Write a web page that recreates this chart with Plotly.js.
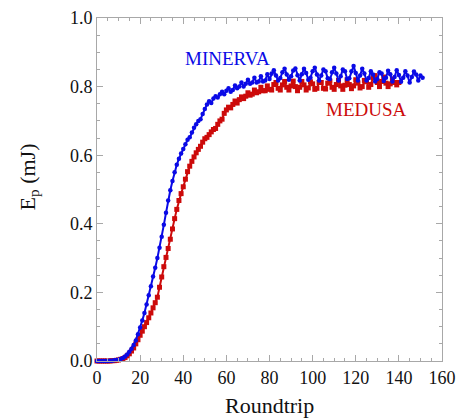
<!DOCTYPE html>
<html>
<head>
<meta charset="utf-8">
<script src="https://cdn.plot.ly/plotly-3.0.1.min.js"></script>
<style>html,body{margin:0;padding:0;background:#fff;}#chart{width:461px;height:420px;}</style>
</head>
<body>
<div id="chart"></div>
<script>
// MINERVA pulse energy (mJ) for roundtrips 0..151
const minervaE = [
0,0,0,0,0,0,0.001,0.001,0.002,0.003,
0.004,0.006,0.009,0.013,0.019,0.027,0.036,0.047,0.060,0.078,
0.098,0.118,0.140,0.165,0.192,0.218,0.246,0.272,0.300,0.330,
0.362,0.397,0.432,0.468,0.498,0.525,0.550,0.572,0.590,0.605,
0.618,0.632,0.645,0.652,0.666,0.680,0.690,0.700,0.705,0.720,
0.735,0.748,0.757,0.752,0.765,0.772,0.768,0.778,0.785,0.778,
0.788,0.795,0.785,0.790,0.803,0.795,0.800,0.812,0.800,0.808,
0.820,0.808,0.812,0.826,0.812,0.815,0.830,0.815,0.818,0.836,
0.822,0.838,0.848,0.832,0.818,0.825,0.842,0.852,0.835,0.820,
0.830,0.847,0.853,0.833,0.818,0.836,0.852,0.840,0.820,0.826,
0.845,0.855,0.835,0.818,0.832,0.850,0.845,0.824,0.822,0.842,
0.855,0.838,0.818,0.830,0.850,0.845,0.822,0.824,0.845,0.860,
0.840,0.818,0.832,0.852,0.838,0.818,0.825,0.845,0.835,0.815,
0.822,0.842,0.838,0.816,0.826,0.846,0.836,0.815,0.828,0.848,
0.834,0.814,0.826,0.845,0.832,0.812,0.828,0.844,0.835,0.818,
0.832,0.826
];
// MEDUSA pulse energy (mJ) for roundtrips 0..140
const medusaE = [
0,0,0,0,0,0,0,0.001,0.001,0.002,
0.003,0.005,0.007,0.010,0.015,0.021,0.029,0.038,0.050,0.062,
0.075,0.087,0.100,0.112,0.126,0.140,0.155,0.170,0.186,0.215,
0.245,0.275,0.302,0.328,0.355,0.385,0.415,0.442,0.468,0.488,
0.508,0.530,0.552,0.568,0.582,0.595,0.607,0.617,0.626,0.638,
0.648,0.652,0.660,0.668,0.675,0.678,0.690,0.700,0.705,0.722,
0.732,0.740,0.738,0.748,0.758,0.752,0.762,0.770,0.765,0.772,
0.782,0.775,0.778,0.790,0.782,0.785,0.798,0.788,0.788,0.802,
0.792,0.790,0.806,0.812,0.795,0.790,0.805,0.815,0.798,0.790,
0.802,0.816,0.800,0.788,0.798,0.815,0.805,0.790,0.796,0.814,
0.808,0.792,0.795,0.812,0.812,0.795,0.793,0.810,0.816,0.798,
0.792,0.806,0.818,0.802,0.792,0.804,0.820,0.806,0.794,0.802,
0.820,0.810,0.796,0.800,0.818,0.814,0.798,0.806,0.826,0.832,
0.812,0.800,0.815,0.828,0.810,0.800,0.808,0.822,0.812,0.805,
0.812
];
const minervaX = minervaE.map((_, i) => i);
const medusaX = medusaE.map((_, i) => i);

const xTicks = [0,20,40,60,80,100,120,140,160];
const yTicks = [0.0,0.2,0.4,0.6,0.8,1.0];

const blue = '#0a0ae6';
const red = '#cc0a0a';
const axisGrey = '#a8a8a8';
const serif = 'Times New Roman, Liberation Serif, DejaVu Serif, serif';

const traces = [
  {x: medusaX, y: medusaE, type: 'scatter', mode: 'lines+markers', name: 'MEDUSA',
   line: {color: red, width: 2}, marker: {symbol: 'square', size: 5, color: red}, cliponaxis: false},
  {x: minervaX, y: minervaE, type: 'scatter', mode: 'lines+markers', name: 'MINERVA',
   line: {color: blue, width: 2}, marker: {symbol: 'circle', size: 4.5, color: blue}, cliponaxis: false}
];

const axisCommon = {
  showgrid: false, zeroline: false, showline: true, linecolor: axisGrey, linewidth: 1,
  mirror: 'ticks', ticks: 'inside', ticklen: 6, tickwidth: 1, tickcolor: axisGrey,
  tickfont: {family: serif, size: 18, color: '#111'},
  minor: {ticks: 'inside', ticklen: 3, tickwidth: 1, tickcolor: axisGrey},
  automargin: false
};

const layout = {
  width: 461, height: 420,
  margin: {l: 97, r: 19, t: 18, b: 59},
  paper_bgcolor: '#fff', plot_bgcolor: '#fff',
  font: {family: serif, color: '#111'},
  showlegend: false,
  xaxis: Object.assign({}, axisCommon, {
    range: [0, 160], tickvals: xTicks, ticktext: xTicks.map(String),
    minor: Object.assign({}, axisCommon.minor, {dtick: 5})
  }),
  yaxis: Object.assign({}, axisCommon, {
    range: [0, 1.0], tickvals: yTicks, ticktext: yTicks.map(v => v.toFixed(1)),
    minor: Object.assign({}, axisCommon.minor, {dtick: 0.05})
  }),
  annotations: [
    {x: 60.3, y: 0.882, xref: 'x', yref: 'y', text: 'MINERVA', showarrow: false,
     font: {family: serif, size: 19, color: blue}},
    {x: 125.2, y: 0.732, xref: 'x', yref: 'y', text: 'MEDUSA', showarrow: false,
     font: {family: serif, size: 19, color: red}},
    {x: 0.5, y: 0, xref: 'paper', yref: 'paper', yshift: -58, yanchor: 'bottom', xanchor: 'center',
     borderpad: 0, text: 'Roundtrip', showarrow: false, font: {family: serif, size: 22, color: '#111'}},
    {x: 0, y: 0.5, xref: 'paper', yref: 'paper', xshift: -69, yshift: 12, xanchor: 'center', yanchor: 'middle',
     textangle: -90, text: 'E<sub>p</sub> (mJ)', showarrow: false, font: {family: serif, size: 22, color: '#111'}}
  ]
};

Plotly.newPlot('chart', traces, layout, {displayModeBar: false, staticPlot: true});
</script>
</body>
</html>
